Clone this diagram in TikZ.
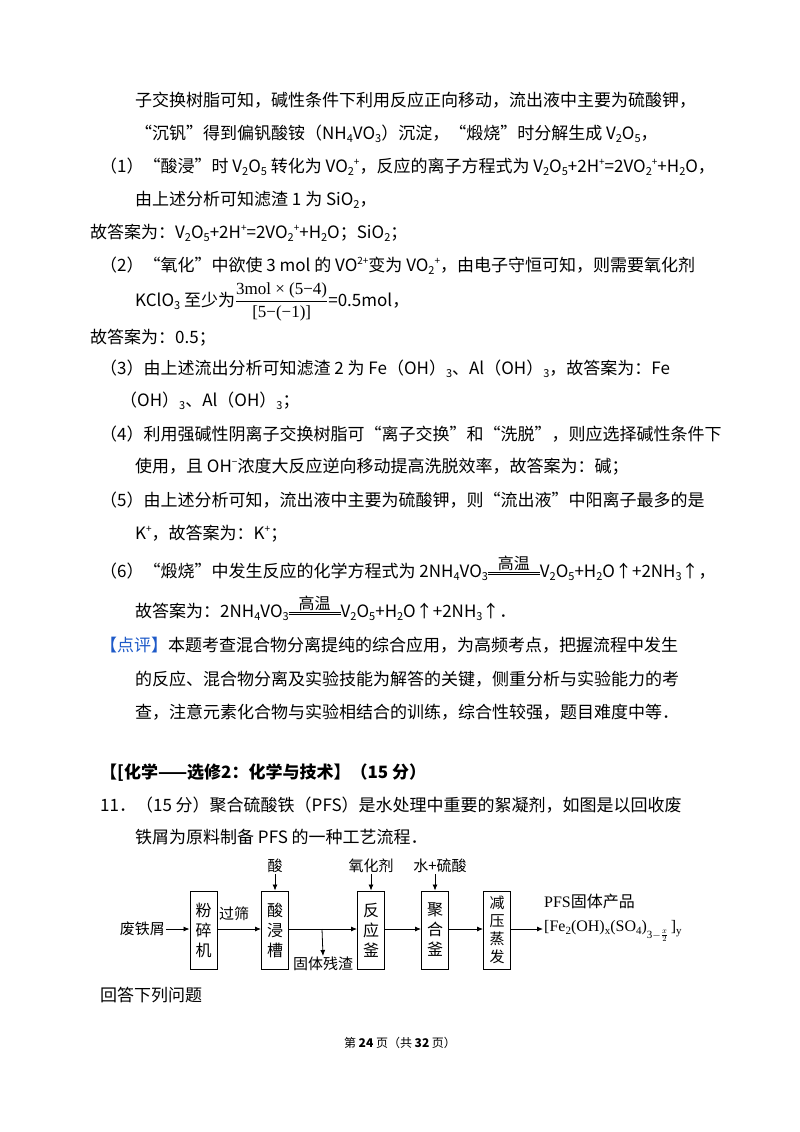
\documentclass[tikz,border=0pt]{standalone}
\usepackage{fontspec}
\usetikzlibrary{arrows.meta}
\setmainfont{Noto Sans CJK SC}
\newfontfamily\ser{Liberation Serif}
\newcommand\dn[1]{\raisebox{-0.35ex}{\fontsize{11}{12}\selectfont #1}}
\newcommand\up[1]{\raisebox{0.8ex}{\fontsize{10}{12}\selectfont #1}}
\newcommand\gw{\ensuremath{\mathop{\vcenter{\hrule width 52pt height .6pt \kern2pt \hrule width 52pt height .6pt}}\limits^{\mbox{\fontsize{16}{16}\selectfont 高温}}}}
\begin{document}
\begin{tikzpicture}[x=1pt,y=-1pt,
  tl/.style={anchor=west,inner sep=0pt,font=\fontsize{17}{20}\selectfont},
  bx/.style={draw,line width=1pt,minimum width=27pt,minimum height=78pt,inner sep=0pt,font=\fontsize{16}{20}\selectfont,align=center},
  fl/.style={inner sep=1pt,font=\fontsize{15}{16}\selectfont},
  ar/.style={-{Latex[length=6pt,width=5pt]},line width=0.8pt}]
\useasboundingbox (0,0) rectangle (800,1132);
\node[tl] (l1) at (135,100) {子交换树脂可知，碱性条件下利用反应正向移动，流出液中主要为硫酸钾，};
\node[tl] (l2) at (135,134) {“沉钒”得到偏钒酸铵（NH\dn{4}VO\dn{3}）沉淀，“煅烧”时分解生成 V\dn{2}O\dn{5}，};
\node[tl] (l3) at (100,167) {（1）“酸浸”时 V\dn{2}O\dn{5} 转化为 VO\dn{2}\up{+}，反应的离子方程式为 V\dn{2}O\dn{5}+2H\up{+}=2VO\dn{2}\up{+}+H\dn{2}O，};
\node[tl] (l4) at (135,200) {由上述分析可知滤渣 1 为 SiO\dn{2}，};
\node[tl] (l5) at (90,233) {故答案为：V\dn{2}O\dn{5}+2H\up{+}=2VO\dn{2}\up{+}+H\dn{2}O；SiO\dn{2}；};
\node[tl] (l6) at (100,266) {（2）“氧化”中欲使 3 mol 的 VO\up{2+}变为 VO\dn{2}\up{+}，由电子守恒可知，则需要氧化剂};
\node[tl] (l7) at (135,302) {KClO\dn{3} 至少为$\displaystyle\frac{\mbox{\ser\fontsize{17}{17}\selectfont 3mol × (5−4)}}{\mbox{\ser\fontsize{17}{17}\selectfont [5−(−1)]}}$=0.5mol，};
\node[tl] (l8) at (90,338) {故答案为：0.5；};
\node[tl] (l9) at (100,369) {（3）由上述流出分析可知滤渣 2 为 Fe（OH）\dn{3}、Al（OH）\dn{3}，故答案为：Fe};
\node[tl] (l10) at (120,401) {（OH）\dn{3}、Al（OH）\dn{3}；};
\node[tl] (l11) at (100,434) {（4）利用强碱性阴离子交换树脂可“离子交换”和“洗脱”，则应选择碱性条件下};
\node[tl] (l12) at (135,467) {使用，且 OH\up{−}浓度大反应逆向移动提高洗脱效率，故答案为：碱；};
\node[tl] (l13) at (100,500) {（5）由上述分析可知，流出液中主要为硫酸钾，则“流出液”中阳离子最多的是};
\node[tl] (l14) at (135,534) {K\up{+}，故答案为：K\up{+}；};
\node[tl] (l15) at (100,568) {（6）“煅烧”中发生反应的化学方程式为 2NH\dn{4}VO\dn{3}\gw V\dn{2}O\dn{5}+H\dn{2}O↑+2NH\dn{3}↑，};
\node[tl] (l16) at (135,608) {故答案为：2NH\dn{4}VO\dn{3}\gw V\dn{2}O\dn{5}+H\dn{2}O↑+2NH\dn{3}↑．};
\node[tl] (l17) at (100,645) {\textcolor[RGB]{30,90,200}{【点评】}本题考查混合物分离提纯的综合应用，为高频考点，把握流程中发生};
\node[tl] (l18) at (135,679) {的反应、混合物分离及实验技能为解答的关键，侧重分析与实验能力的考};
\node[tl] (l19) at (135,712) {查，注意元素化合物与实验相结合的训练，综合性较强，题目难度中等．};
\node[tl,font=\fontsize{17}{20}\selectfont\bfseries] (h) at (100,773) {【[化学——选修2：化学与技术】（15 分）};
\node[tl] (q1) at (100,805) {11．（15 分）聚合硫酸铁（PFS）是水处理中重要的絮凝剂，如图是以回收废};
\node[tl] (q2) at (135,837) {铁屑为原料制备 PFS 的一种工艺流程．};
% flowchart
\node[fl,anchor=east] (w) at (166,929) {废铁屑};
\node[bx] (b1) at (203.5,930) {粉\\碎\\机};
\node[bx] (b2) at (275,930) {酸\\浸\\槽};
\node[bx] (b3) at (371,930) {反\\应\\釜};
\node[bx] (b4) at (435,930) {聚\\合\\釜};
\node[bx,font=\fontsize{15}{18}\selectfont] (b5) at (497,930) {减\\压\\蒸\\发};
\node[fl] (t2) at (275,866) {酸};
\node[fl] (t3) at (371,866) {氧化剂};
\node[fl] (t4) at (440,866) {水+硫酸};
\node[fl] (gs) at (234,914) {过筛};
\coordinate (br) at (322,929);
\node[fl,anchor=north] (cz) at (323,956) {固体残渣};
\node[fl,anchor=west,align=left,font=\fontsize{16}{24}\selectfont] (pfs) at (543,918) {{\ser PFS}固体产品\\{\ser [Fe\dn{2}(OH)\dn{x}(SO\dn{4})\raisebox{-0.9ex}{\fontsize{11}{12}\selectfont 3$-\frac{x}{2}$}\,]\dn{y}}};
\draw[ar] (w) -- (b1.west |- w);
\draw[ar] (b1.east |- 0,929) -- (b2.west |- 0,929);
\draw[ar] (b2.east |- 0,929) -- (b3.west |- 0,929);
\draw[ar] (br) -- (cz.north);
\draw[ar] (b3.east |- 0,929) -- (b4.west |- 0,929);
\draw[ar] (b4.east |- 0,929) -- (b5.west |- 0,929);
\draw[ar] (b5.east |- 0,929) -- (pfs.west |- 0,929);
\draw[ar] (t2) -- (b2);
\draw[ar] (t3) -- (b3);
\draw[ar] (t4.south -| b4) -- (b4);
\node[tl] (q3) at (100,995) {回答下列问题};
\node[inner sep=0pt,font=\fontsize{12}{14}\selectfont] (pg) at (400,1043) {第 \textbf{24} 页（共 \textbf{32} 页）};
\end{tikzpicture}
\end{document}
